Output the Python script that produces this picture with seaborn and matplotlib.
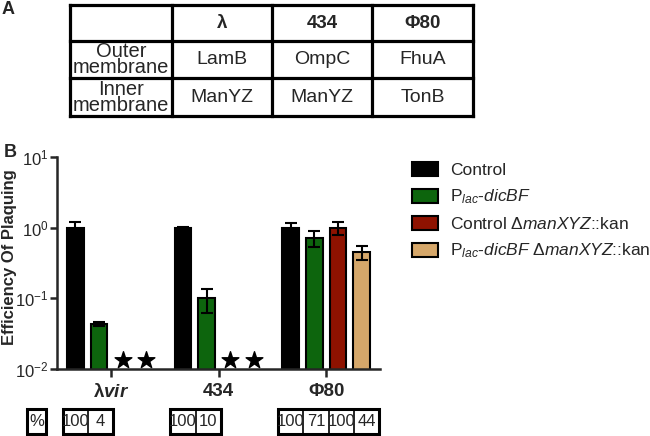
import numpy as np
import pandas as pd
import matplotlib
matplotlib.use("Agg")
import matplotlib.pyplot as plt
import seaborn as sns
from matplotlib.patches import Patch, Rectangle
from matplotlib.transforms import blended_transform_factory

# data
phages = ["λvir", "434", "Φ80"]
strains = ["Control", "Plac-dicBF", "Control manXYZ", "Plac-dicBF manXYZ"]
eop_control = [1.0, 1.0, 1.0]
eop_dicbf = [0.044, 0.10, 0.71]
eop_control_man = [np.nan, np.nan, 1.0]
eop_dicbf_man = [np.nan, np.nan, 0.45]
err_control = [0.2, 0.01, 0.15]
err_dicbf = [0.003, 0.037, 0.18]
err_control_man = [np.nan, np.nan, 0.22]
err_dicbf_man = [np.nan, np.nan, 0.1]
no_plaque_level = 0.0135
pct_labels = [["100", "4"], ["100", "10"], ["100", "71", "100", "44"]]

colors = ["#000000", "#0d650d", "#8e1200", "#d5a76a"]
legend_labels = ["Control",
                 r"P$_{lac}$-$dicBF$",
                 r"Control $\Delta manXYZ$::kan",
                 r"P$_{lac}$-$dicBF\ \Delta manXYZ$::kan"]
xtick_labels = [r"$\mathbf{λ}\mathbfit{vir}$", "434", "Φ80"]

table_cols = ["λ", "434", "Φ80"]
table_rows = ["Outer\nmembrane", "Inner\nmembrane"]
table_cells = [["LamB", "OmpC", "FhuA"], ["ManYZ", "ManYZ", "TonB"]]

sns.set_style("ticks")
plt.rcParams["font.family"] = ["Liberation Sans", "DejaVu Sans"]
plt.rcParams["mathtext.fontset"] = "custom"
plt.rcParams["mathtext.rm"] = "Liberation Sans"
plt.rcParams["mathtext.it"] = "Liberation Sans:italic"
plt.rcParams["mathtext.bf"] = "Liberation Sans:bold"
plt.rcParams["mathtext.bfit"] = "Liberation Sans:italic:bold"

all_vals = [eop_control, eop_dicbf, eop_control_man, eop_dicbf_man]
all_errs = [err_control, err_dicbf, err_control_man, err_dicbf_man]
rows = []
for s, vals, errs in zip(strains, all_vals, all_errs):
    for p, v, e in zip(phages, vals, errs):
        rows.append({"phage": p, "strain": s, "eop": v, "err": e})
df = pd.DataFrame(rows)

fig = plt.figure(figsize=(6.5, 4.36), dpi=100)
ax = fig.add_axes([57 / 650, 67 / 436, 323 / 650, 212 / 436])
ax.set_yscale("log")
sns.barplot(data=df.dropna(), x="phage", y="eop", hue="strain", order=phages,
            hue_order=strains, palette=colors, width=0.88, gap=0.3,
            edgecolor="black", linewidth=1.5, errorbar=None, saturation=1,
            legend=False, ax=ax)

# bar centres -> hue offsets
bars = [b for b in ax.patches if b.get_height() > 0]
centers = sorted(b.get_x() + b.get_width() / 2 for b in bars)
offsets = sorted(c - 2 for c in centers if round(c) == 2)

for j in range(len(strains)):
    for i in range(len(phages)):
        x = i + offsets[j]
        v = all_vals[j][i]
        if np.isnan(v):
            ax.scatter(x, no_plaque_level, marker="*", s=160, color="black",
                       zorder=4, clip_on=False)
        else:
            ax.errorbar(x, v, yerr=all_errs[j][i], color="black", lw=1.5,
                        capsize=4.5, capthick=1.5, zorder=4)

ax.set_ylim(0.01, 10)
ax.set_xlim(-0.5, 2.5)
ax.minorticks_off()
ax.set_yticks([0.01, 0.1, 1, 10])
ax.set_xticks(range(3))
ax.set_xticklabels(xtick_labels, fontsize=13.5, fontweight="bold")
ax.tick_params(axis="y", labelsize=12, length=5, width=1.8, pad=1)
ax.tick_params(axis="x", length=6, width=1.8, pad=4)
ax.set_xlabel("")
ax.set_ylabel("Efficiency Of Plaquing", fontsize=12, fontweight="bold")
ax.yaxis.set_label_coords(-0.125, 0.53)
sns.despine(ax=ax)
for sp in ["left", "bottom"]:
    ax.spines[sp].set_linewidth(1.8)

# percentage boxes under the bars
tr = blended_transform_factory(ax.transData, fig.transFigure)
y0, h = 0.0046, 0.057
cw = 0.235
for i, labs in enumerate(pct_labels):
    xs = [i + offsets[j] for j in range(len(labs))]
    left = xs[0] - cw / 2
    ax.add_patch(Rectangle((left, y0), cw * len(labs), h, transform=tr,
                           fill=False, lw=2.2, ec="black", clip_on=False))
    for k, (x, t) in enumerate(zip(xs, labs)):
        if k > 0:
            ax.add_patch(Rectangle((left + k * cw, y0), 0, h, transform=tr,
                                   fill=False, lw=1.2, ec="black", clip_on=False))
        ax.text(left + (k + 0.5) * cw, y0 + h / 2, t, transform=tr, ha="center",
                va="center", fontsize=12)
pct_x = -0.69
ax.add_patch(Rectangle((pct_x - 0.085, y0), 0.17, h, transform=tr, fill=False,
                       lw=2.2, ec="black", clip_on=False))
ax.text(pct_x, y0 + h / 2, "%", transform=tr, ha="center", va="center", fontsize=12)

# legend
handles = [Patch(facecolor=c, edgecolor="black", lw=1.5) for c in colors]
fig.legend(handles, legend_labels, loc="upper left",
           bbox_to_anchor=(412 / 650, (436 - 162) / 436), frameon=False,
           fontsize=12.5, handlelength=1.5, handleheight=0.9,
           handletextpad=0.7, labelspacing=0.55, borderpad=0, borderaxespad=0)

# panel A table, drawn in pixel coords
tab = fig.add_axes([0, 0, 1, 1], zorder=-1)
tab.set_xlim(0, 650)
tab.set_ylim(436, 0)
tab.axis("off")
col_edges = [70, 172, 272, 372, 473]
row_edges = [5, 41, 78, 116]
for x in col_edges:
    tab.plot([x, x], [row_edges[0], row_edges[-1]], color="black", lw=2.3,
             solid_capstyle="projecting")
for y in row_edges:
    tab.plot([col_edges[0], col_edges[-1]], [y, y], color="black", lw=2.3,
             solid_capstyle="projecting")
for k, t in enumerate(table_cols):
    tab.text((col_edges[k + 1] + col_edges[k + 2]) / 2, (row_edges[0] + row_edges[1]) / 2,
             t, ha="center", va="center", fontsize=13.5, fontweight="bold")
for r, name in enumerate(table_rows):
    yc = (row_edges[r + 1] + row_edges[r + 2]) / 2
    tab.text((col_edges[0] + col_edges[1]) / 2, yc, name, ha="center", va="center",
             fontsize=14.5, linespacing=0.8)
    for k, t in enumerate(table_cells[r]):
        tab.text((col_edges[k + 1] + col_edges[k + 2]) / 2, yc, t, ha="center",
                 va="center", fontsize=14)
tab.text(8, 10, "A", ha="center", va="center", fontsize=13, fontweight="bold")
tab.text(10, 152, "B", ha="center", va="center", fontsize=13, fontweight="bold")

fig.savefig("out.png", dpi=100)
